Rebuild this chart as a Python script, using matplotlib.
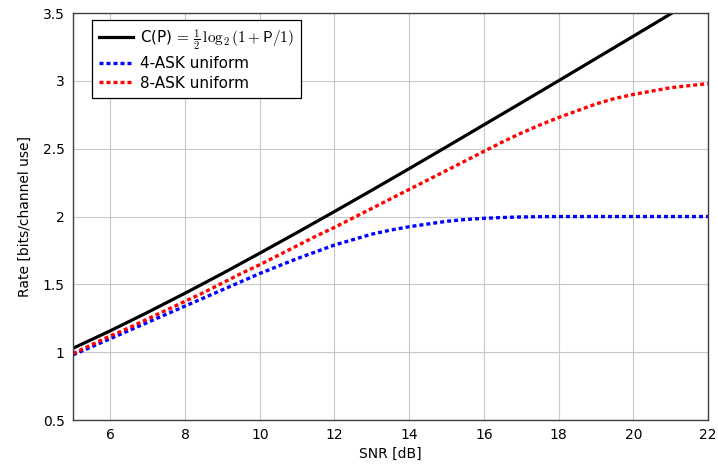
import matplotlib
matplotlib.use("Agg")
import matplotlib.pyplot as plt

# === Dati (SNR in dB, rate in bit/uso di canale)
snr_cap = [5, 6, 7, 8, 9, 10, 11, 12, 13, 14, 15, 16, 17, 18, 19, 20, 21, 22]
rate_cap = [1.029, 1.158, 1.294, 1.435, 1.580, 1.730, 1.882, 2.037, 2.194,
            2.353, 2.514, 2.676, 2.838, 3.001, 3.165, 3.329, 3.494, 3.659]

snr_ask = [5, 5.5, 6, 6.5, 7, 7.5, 8, 8.5, 9, 9.5, 10, 10.5, 11, 11.5, 12,
           12.5, 13, 13.5, 14, 14.5, 15, 15.5, 16, 16.5, 17, 17.5, 18, 18.5,
           19, 19.5, 20, 20.5, 21, 21.5, 22]
rate_4ask = [0.98, 1.04, 1.10, 1.16, 1.22, 1.28, 1.34, 1.40, 1.46, 1.52,
             1.58, 1.635, 1.69, 1.74, 1.79, 1.83, 1.87, 1.90, 1.925, 1.945,
             1.965, 1.978, 1.987, 1.993, 1.997, 1.999, 2.0, 2.0, 2.0, 2.0,
             2.0, 2.0, 2.0, 2.0, 2.0]
rate_8ask = [0.99, 1.055, 1.12, 1.18, 1.245, 1.31, 1.375, 1.44, 1.51, 1.58,
             1.645, 1.715, 1.785, 1.855, 1.92, 1.99, 2.06, 2.13, 2.20, 2.27,
             2.34, 2.41, 2.48, 2.55, 2.615, 2.675, 2.73, 2.78, 2.83, 2.87,
             2.90, 2.925, 2.95, 2.965, 2.98]

xticks = [6, 8, 10, 12, 14, 16, 18, 20, 22]
yticks = [0.5, 1, 1.5, 2, 2.5, 3, 3.5]
ytick_labels = ["0.5", "1", "1.5", "2", "2.5", "3", "3.5"]

plt.rcParams["font.family"] = "DejaVu Sans"
plt.rcParams["mathtext.fontset"] = "cm"

fig = plt.figure(figsize=(7.18, 4.67), dpi=100)
ax = fig.add_axes([0.1017, 0.1006, 0.8843, 0.8714])

ax.plot(snr_cap, rate_cap, color="black", linewidth=2.3,
        label=r"C(P)$\,=\,\frac{1}{2}\,\log_2(1+\mathsf{P}/1)$")
ax.plot(snr_ask, rate_4ask, color="blue", linewidth=2.4,
        linestyle=(0, (1.2, 0.9)), label="4-ASK uniform")
ax.plot(snr_ask, rate_8ask, color="red", linewidth=2.4,
        linestyle=(0, (1.2, 0.9)), label="8-ASK uniform")

ax.set_xlim(5, 22)
ax.set_ylim(0.5, 3.5)
ax.set_xticks(xticks)
ax.set_xticklabels([str(t) for t in xticks])
ax.set_yticks(yticks)
ax.set_yticklabels(ytick_labels)
ax.tick_params(length=0, labelsize=10, pad=6)
ax.grid(True, color="#c8c8c8", linewidth=0.8)
ax.set_axisbelow(True)
for s in ax.spines.values():
    s.set_color("#404040")
    s.set_linewidth(1.0)

ax.set_xlabel("SNR [dB]", fontsize=10, labelpad=3)
ax.set_ylabel("Rate [bits/channel use]", fontsize=10, labelpad=8)

leg = ax.legend(loc="upper left", bbox_to_anchor=(0.03, 0.983), fontsize=11,
                fancybox=False, edgecolor="black", framealpha=1,
                handlelength=2.2, handletextpad=0.5, borderpad=0.45,
                labelspacing=0.3, borderaxespad=0)
leg.get_frame().set_linewidth(0.9)

fig.savefig("out.png", dpi=100)
